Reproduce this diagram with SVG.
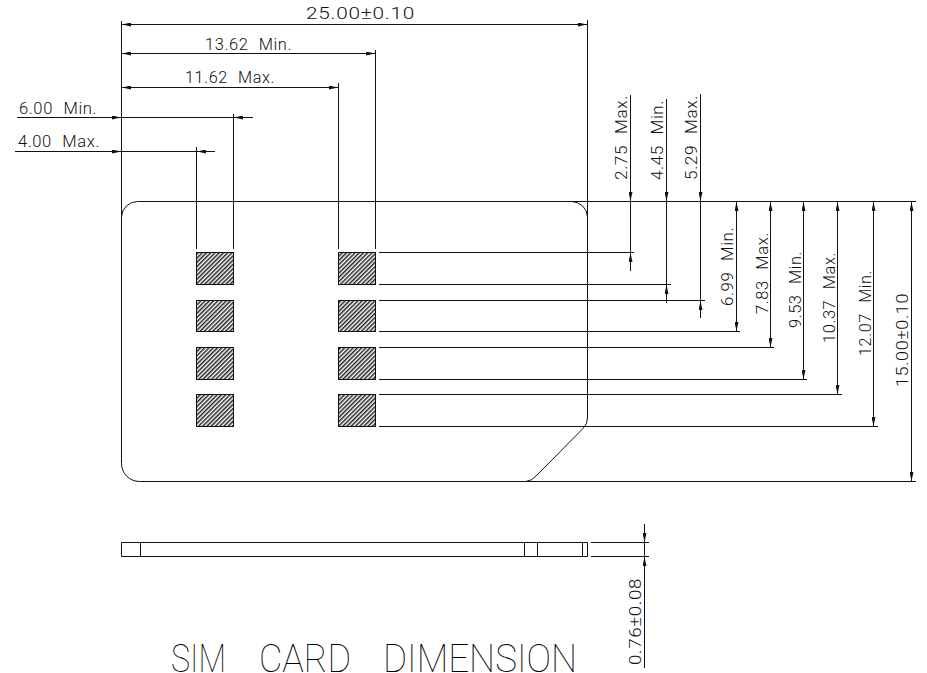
<svg xmlns="http://www.w3.org/2000/svg" width="927" height="673" viewBox="0 0 927 673">
<style>
.l{fill:none;stroke:#111;stroke-width:1}
.t{font-family:"Roboto","Liberation Sans",sans-serif;font-weight:300;font-size:17px;fill:#111;letter-spacing:.6px;word-spacing:6px}
.title{font-family:"Roboto","Liberation Sans",sans-serif;font-weight:100;font-size:38px;fill:#000;opacity:.99}
.pad{fill:url(#h);stroke:#111;stroke-width:1}
</style>
<defs>
<pattern id="h" width="3" height="3" patternUnits="userSpaceOnUse" patternTransform="rotate(-45)"><rect width="3" height="3" fill="#fff"/><rect width="3" height="1.5" fill="#222"/></pattern>
<marker id="a" viewBox="0 0 9 4" refX="9" refY="2" markerWidth="9" markerHeight="4" markerUnits="userSpaceOnUse" orient="auto"><path d="M0 0L9 2L0 4z" fill="#111"/></marker>
</defs>
<rect width="927" height="673" fill="#fff"/>
<g id="card"><path class="l" d="M121.5 217A16 16 0 0 1 137.500 201.500H572A16 16 0 0 1 587.500 217V418Q587.500 424 583 428.500L537 475Q532 481 526 481.500H139.500A18 18 0 0 1 121.500 463.500Z"/></g>
<g id="pad-1"><rect class="pad" x="196.500" y="252.500" width="37" height="32"/></g>
<g id="pad-2"><rect class="pad" x="196.500" y="300.500" width="37" height="31"/></g>
<g id="pad-3"><rect class="pad" x="196.500" y="347.500" width="37" height="32"/></g>
<g id="pad-4"><rect class="pad" x="196.500" y="394.500" width="37" height="32"/></g>
<g id="pad-5"><rect class="pad" x="338.500" y="252.500" width="37" height="32"/></g>
<g id="pad-6"><rect class="pad" x="338.500" y="300.500" width="37" height="31"/></g>
<g id="pad-7"><rect class="pad" x="338.500" y="347.500" width="37" height="32"/></g>
<g id="pad-8"><rect class="pad" x="338.500" y="394.500" width="37" height="32"/></g>
<g id="side-view"><path class="l" d="M121.500 542.500H587.500V556.500H121.500ZM140.500 542.500V556.500M524.500 542.500V556.500M537.500 542.500V556.500M582.500 542.500V556.500"/></g>
<g id="connectors">
<path class="l" d="M121.500 21V217M587.500 20V217M233.500 114V249M196.500 147V249M338.500 83V249M375.500 50V249"/>
<path class="l" d="M121.500 24.500H587.500M121.500 53.500H375.500M121.500 87.500H338.500M17 117.500H253M15 151.500H215"/>
<path class="l" d="M572 201.500H916M379 252.500H634M379 284.500H671M379 300.500H705M379 331.500H740M379 347.500H774M379 379.500H807M379 394.500H842M379 426.500H878M526 481.500H916"/>
<path class="l" d="M630.500 95V271M666.500 99V303M700.500 94V318M736.500 201.500V331.500M770.500 201.500V347.500M803.500 201.500V379.500M837.500 201.500V394.500M873.500 201.500V426.500M911.500 201.500V481.500"/>
<path class="l" d="M591 542.500H649M591 556.500H649M644.500 524V668"/>
<g class="l">
<path d="M140 24.500H122" marker-end="url(#a)"/><path d="M570 24.500H587" marker-end="url(#a)"/>
<path d="M140 53.500H122" marker-end="url(#a)"/><path d="M360 53.500H375" marker-end="url(#a)"/>
<path d="M140 87.500H122" marker-end="url(#a)"/><path d="M320 87.500H338" marker-end="url(#a)"/>
<path d="M100 117.500H121" marker-end="url(#a)"/><path d="M250 117.500H234" marker-end="url(#a)"/>
<path d="M100 151.500H121" marker-end="url(#a)"/><path d="M212 151.500H197" marker-end="url(#a)"/>
<path d="M630.500 180V201" marker-end="url(#a)"/><path d="M630.500 270V253" marker-end="url(#a)"/>
<path d="M666.500 180V201" marker-end="url(#a)"/><path d="M666.500 302V285" marker-end="url(#a)"/>
<path d="M700.500 180V201" marker-end="url(#a)"/><path d="M700.500 317V301" marker-end="url(#a)"/>
<path d="M736.500 220V202" marker-end="url(#a)"/><path d="M736.500 315V331" marker-end="url(#a)"/>
<path d="M770.500 220V202" marker-end="url(#a)"/><path d="M770.500 330V347" marker-end="url(#a)"/>
<path d="M803.500 220V202" marker-end="url(#a)"/><path d="M803.500 362V379" marker-end="url(#a)"/>
<path d="M837.500 220V202" marker-end="url(#a)"/><path d="M837.500 377V394" marker-end="url(#a)"/>
<path d="M873.500 220V202" marker-end="url(#a)"/><path d="M873.500 410V426" marker-end="url(#a)"/>
<path d="M911.500 220V202" marker-end="url(#a)"/><path d="M911.500 465V481" marker-end="url(#a)"/>
<path d="M644.500 528V542" marker-end="url(#a)"/><path d="M644.500 572V557" marker-end="url(#a)"/>
</g>
</g>
<g id="labels">
<text class="t" x="306" y="19" textLength="109" lengthAdjust="spacingAndGlyphs">25.00±0.10</text>
<text class="t" x="205" y="50" textLength="87" lengthAdjust="spacingAndGlyphs">13.62 Min.</text>
<text class="t" x="185" y="83" textLength="90" lengthAdjust="spacingAndGlyphs">11.62 Max.</text>
<text class="t" x="19" y="114" textLength="78" lengthAdjust="spacingAndGlyphs">6.00 Min.</text>
<text class="t" x="18" y="147" textLength="82" lengthAdjust="spacingAndGlyphs">4.00 Max.</text>
<text class="t" transform="translate(627 180) rotate(-90)" textLength="85" lengthAdjust="spacingAndGlyphs">2.75 Max.</text>
<text class="t" transform="translate(663 180) rotate(-90)" textLength="80" lengthAdjust="spacingAndGlyphs">4.45 Min.</text>
<text class="t" transform="translate(697 180) rotate(-90)" textLength="85" lengthAdjust="spacingAndGlyphs">5.29 Max.</text>
<text class="t" transform="translate(733 306) rotate(-90)" textLength="79" lengthAdjust="spacingAndGlyphs">6.99 Min.</text>
<text class="t" transform="translate(768 314) rotate(-90)" textLength="82" lengthAdjust="spacingAndGlyphs">7.83 Max.</text>
<text class="t" transform="translate(801 328) rotate(-90)" textLength="77" lengthAdjust="spacingAndGlyphs">9.53 Min.</text>
<text class="t" transform="translate(835 343) rotate(-90)" textLength="91" lengthAdjust="spacingAndGlyphs">10.37 Max.</text>
<text class="t" transform="translate(871 356) rotate(-90)" textLength="86" lengthAdjust="spacingAndGlyphs">12.07 Min.</text>
<text class="t" transform="translate(908 387) rotate(-90)" textLength="94" lengthAdjust="spacingAndGlyphs">15.00±0.10</text>
<text class="t" transform="translate(641 665) rotate(-90)" textLength="87" lengthAdjust="spacingAndGlyphs">0.76±0.08</text>
<text class="title" y="672"><tspan x="171" textLength="55" lengthAdjust="spacingAndGlyphs">SIM</tspan> <tspan x="259" textLength="92" lengthAdjust="spacingAndGlyphs">CARD</tspan> <tspan x="383" textLength="194" lengthAdjust="spacingAndGlyphs">DIMENSION</tspan></text>
</g>
</svg>
